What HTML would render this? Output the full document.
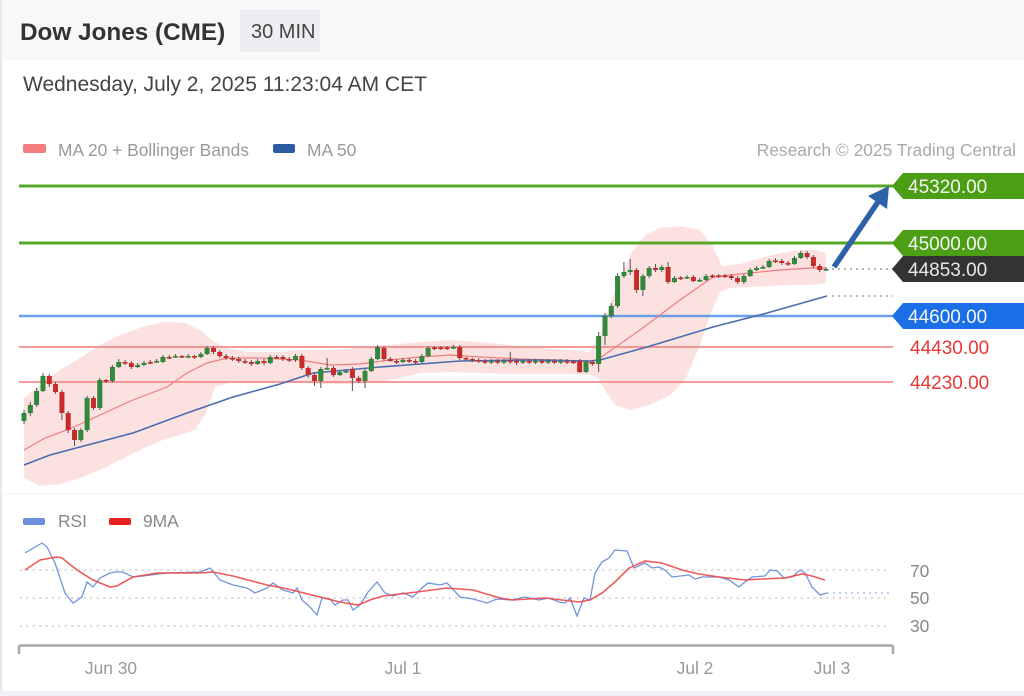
<!DOCTYPE html>
<html><head><meta charset="utf-8"><style>
html,body{margin:0;padding:0;background:#fff;}
body{width:1024px;height:696px;overflow:hidden;}
svg{display:block;font-family:"Liberation Sans",sans-serif;}
</style></head><body>
<svg width="1024" height="696" viewBox="0 0 1024 696" xmlns="http://www.w3.org/2000/svg">
<rect x="0" y="0" width="1024" height="696" fill="#fff"/>
<rect x="0" y="0" width="1024" height="60" fill="#f8f8f8"/>
<rect x="0" y="0" width="2" height="696" fill="#e8e8e8"/>
<rect x="0" y="691" width="1024" height="5" fill="#eef0f3"/>
<line x1="2" y1="494" x2="1024" y2="494" stroke="#f3f3f3" stroke-width="1"/>

<!-- header -->
<text x="20" y="40" font-size="24.3" font-weight="bold" fill="#333">Dow Jones (CME)</text>
<rect x="240" y="10" width="80" height="42" fill="#eceef1"/>
<text x="251" y="38" font-size="20" fill="#444">30 MIN</text>
<text x="23" y="91" font-size="21" fill="#444">Wednesday, July 2, 2025 11:23:04 AM CET</text>

<!-- legend -->
<rect x="23" y="144" width="23" height="9" rx="2" fill="#f47c7c"/>
<text x="58" y="156" font-size="17.4" fill="#999">MA 20 + Bollinger Bands</text>
<rect x="273" y="144" width="22" height="9" rx="2" fill="#2d5ba3"/>
<text x="307" y="156" font-size="17.4" fill="#999">MA 50</text>
<text x="1016" y="156" font-size="17.4" fill="#aaa" text-anchor="end">Research © 2025 Trading Central</text>

<!-- Bollinger band -->
<path fill="#fcdcdc" fill-opacity="0.85" d="M24,398 L40,385 L60,370 L80,358 L100,345 L120,335 L145,326 L165,322 L185,323 L200,330 L212,340 L225,348 L250,352 L280,352 L300,350 L330,350 L360,348 L390,345 L420,342 L450,340 L480,342 L510,345 L540,348 L570,350 L590,352 L600,335 L615,290 L630,255 L645,235 L660,228 L680,226 L700,230 L712,245 L722,266 L740,264 L760,258 L780,253 L800,250 L815,250 L826,253 L826,283 L810,285 L790,285 L770,286 L750,287 L730,288 L720,292 L710,315 L700,345 L685,380 L670,395 L650,405 L630,410 L615,405 L605,390 L598,378 L590,375 L570,374 L540,374 L510,374 L480,373 L450,372 L420,373 L400,378 L380,382 L350,384 L320,384 L290,382 L260,381 L235,381 L215,387 L205,415 L195,430 L180,435 L160,441 L140,450 L120,460 L100,470 L80,478 L60,484 L40,486 L24,478 Z"/>

<!-- level lines -->
<line x1="19" y1="186" x2="893" y2="186" stroke="#57a829" stroke-width="3"/>
<line x1="19" y1="243" x2="893" y2="243" stroke="#57a829" stroke-width="3"/>
<line x1="19" y1="316" x2="893" y2="316" stroke="#6d9ee8" stroke-width="2.5"/>
<line x1="19" y1="347" x2="893" y2="347" stroke="#f28b8b" stroke-width="1.8"/>
<line x1="19" y1="382" x2="893" y2="382" stroke="#f28b8b" stroke-width="1.8"/>
<line x1="832" y1="269" x2="893" y2="269" stroke="#999" stroke-width="1.5" stroke-dasharray="2,4"/>
<line x1="832" y1="296" x2="893" y2="296" stroke="#9aa4c4" stroke-width="1.5" stroke-dasharray="2,4"/>

<!-- MA20 -->
<polyline fill="none" stroke="#f07c7c" stroke-width="1.2" points="24,450 45,438 67,430 85,422 100,415 133,400 167,387 187,373 207,363 227,358 260,358 300,360 330,365 360,364 390,360 420,357 450,355 480,357 520,359 560,360 590,362 600,358 640,330 680,300 713,277 740,274 780,270 810,268 826,268"/>
<!-- MA50 -->
<polyline fill="none" stroke="#4a6cb0" stroke-width="1.6" points="24,465 50,455 80,447 133,433 187,413 233,397 280,384 313,373 380,367 460,361 530,360 590,361 600,360 647,347 713,327 767,313 827,296"/>

<!-- candles in index coords -->
<g transform="translate(24,0) scale(6.315,1)">
<g fill="#555">
<rect x="-0.08" y="410" width="0.16" height="14"/><rect x="0.92" y="402" width="0.16" height="14"/><rect x="1.92" y="388" width="0.16" height="19"/><rect x="2.92" y="373" width="0.16" height="19"/><rect x="3.92" y="374" width="0.16" height="13"/><rect x="4.92" y="382" width="0.16" height="12"/><rect x="5.92" y="390" width="0.16" height="30"/><rect x="6.92" y="411" width="0.16" height="22"/><rect x="7.92" y="428" width="0.16" height="18"/><rect x="8.92" y="428" width="0.16" height="14"/>
<rect x="9.92" y="396" width="0.16" height="36"/><rect x="10.92" y="396" width="0.16" height="14"/><rect x="11.92" y="378" width="0.16" height="32"/><rect x="12.92" y="379" width="0.16" height="4"/><rect x="13.92" y="365" width="0.16" height="18"/><rect x="14.92" y="359" width="0.16" height="9"/><rect x="15.92" y="360" width="0.16" height="5"/><rect x="16.92" y="361" width="0.16" height="8"/><rect x="17.92" y="363" width="0.16" height="5"/><rect x="18.92" y="361" width="0.16" height="5"/>
<rect x="19.92" y="360" width="0.16" height="4"/><rect x="20.92" y="359" width="0.16" height="4"/><rect x="21.92" y="355" width="0.16" height="8"/><rect x="22.92" y="355" width="0.16" height="4"/><rect x="23.92" y="354" width="0.16" height="4"/><rect x="24.92" y="355" width="0.16" height="3"/><rect x="25.92" y="354" width="0.16" height="4"/><rect x="26.92" y="355" width="0.16" height="4"/><rect x="27.92" y="352" width="0.16" height="6"/><rect x="28.92" y="346" width="0.16" height="9"/>
<rect x="29.92" y="346" width="0.16" height="8"/><rect x="30.92" y="350" width="0.16" height="8"/><rect x="31.92" y="354" width="0.16" height="6"/><rect x="32.92" y="356" width="0.16" height="5"/><rect x="33.92" y="357" width="0.16" height="6"/><rect x="34.92" y="359" width="0.16" height="5"/><rect x="35.92" y="360" width="0.16" height="6"/><rect x="36.92" y="359" width="0.16" height="6"/><rect x="37.92" y="359" width="0.16" height="6"/><rect x="38.92" y="355" width="0.16" height="9"/>
<rect x="39.92" y="355" width="0.16" height="4"/><rect x="40.92" y="355" width="0.16" height="6"/><rect x="41.92" y="357" width="0.16" height="5"/><rect x="42.92" y="354" width="0.16" height="8"/><rect x="43.92" y="354" width="0.16" height="16"/><rect x="44.92" y="366" width="0.16" height="12"/><rect x="45.92" y="373" width="0.16" height="13"/><rect x="46.92" y="367" width="0.16" height="21"/><rect x="47.92" y="358" width="0.16" height="12"/><rect x="48.92" y="366" width="0.16" height="11"/>
<rect x="49.92" y="370" width="0.16" height="6"/><rect x="50.92" y="369" width="0.16" height="4"/><rect x="51.92" y="367" width="0.16" height="24"/><rect x="52.92" y="376" width="0.16" height="7"/><rect x="53.92" y="369" width="0.16" height="19"/><rect x="54.92" y="357" width="0.16" height="15"/><rect x="55.92" y="345" width="0.16" height="15"/><rect x="56.92" y="346" width="0.16" height="15"/><rect x="57.92" y="357" width="0.16" height="5"/><rect x="58.92" y="359" width="0.16" height="5"/>
<rect x="59.92" y="358" width="0.16" height="5"/><rect x="60.92" y="358" width="0.16" height="5"/><rect x="61.92" y="359" width="0.16" height="5"/><rect x="62.92" y="354" width="0.16" height="9"/><rect x="63.92" y="346" width="0.16" height="11"/><rect x="64.92" y="346" width="0.16" height="4"/><rect x="65.92" y="346" width="0.16" height="4"/><rect x="66.92" y="346" width="0.16" height="4"/><rect x="67.92" y="345" width="0.16" height="4"/><rect x="68.92" y="345" width="0.16" height="15"/>
<rect x="69.92" y="357" width="0.16" height="4"/><rect x="70.92" y="358" width="0.16" height="4"/><rect x="71.92" y="358" width="0.16" height="5"/><rect x="72.92" y="359" width="0.16" height="5"/><rect x="73.92" y="359" width="0.16" height="5"/><rect x="74.92" y="359" width="0.16" height="5"/><rect x="75.92" y="359" width="0.16" height="5"/><rect x="76.92" y="352" width="0.16" height="12"/><rect x="77.92" y="359" width="0.16" height="6"/><rect x="78.92" y="359" width="0.16" height="5"/>
<rect x="79.92" y="359" width="0.16" height="5"/><rect x="80.92" y="359" width="0.16" height="5"/><rect x="81.92" y="359" width="0.16" height="5"/><rect x="82.92" y="359" width="0.16" height="5"/><rect x="83.92" y="359" width="0.16" height="5"/><rect x="84.92" y="359" width="0.16" height="5"/><rect x="85.92" y="359" width="0.16" height="5"/><rect x="86.92" y="360" width="0.16" height="4"/><rect x="87.92" y="359" width="0.16" height="14"/><rect x="88.92" y="360" width="0.16" height="13"/>
<rect x="89.92" y="360" width="0.16" height="6"/><rect x="90.92" y="332" width="0.16" height="40"/><rect x="91.92" y="313" width="0.16" height="32"/><rect x="92.92" y="303" width="0.16" height="15"/><rect x="93.92" y="273" width="0.16" height="35"/><rect x="94.92" y="262" width="0.16" height="16"/><rect x="95.92" y="259" width="0.16" height="16"/><rect x="96.92" y="268" width="0.16" height="25"/><rect x="97.92" y="274" width="0.16" height="22"/><rect x="98.92" y="266" width="0.16" height="12"/>
<rect x="99.92" y="264" width="0.16" height="8"/><rect x="100.92" y="265" width="0.16" height="7"/><rect x="101.92" y="262" width="0.16" height="22"/><rect x="102.92" y="276" width="0.16" height="7"/><rect x="103.92" y="276" width="0.16" height="4"/><rect x="104.92" y="275" width="0.16" height="4"/><rect x="105.92" y="275" width="0.16" height="7"/><rect x="106.92" y="278" width="0.16" height="4"/><rect x="107.92" y="274" width="0.16" height="7"/><rect x="108.92" y="274" width="0.16" height="4"/>
<rect x="109.92" y="274" width="0.16" height="4"/><rect x="110.92" y="274" width="0.16" height="4"/><rect x="111.92" y="274" width="0.16" height="6"/><rect x="112.92" y="276" width="0.16" height="8"/><rect x="113.92" y="274" width="0.16" height="10"/><rect x="114.92" y="268" width="0.16" height="9"/><rect x="115.92" y="266" width="0.16" height="5"/><rect x="116.92" y="265" width="0.16" height="4"/><rect x="117.92" y="259" width="0.16" height="9"/><rect x="118.92" y="258" width="0.16" height="5"/>
<rect x="119.92" y="259" width="0.16" height="6"/><rect x="120.92" y="261" width="0.16" height="5"/><rect x="121.92" y="256" width="0.16" height="9"/><rect x="122.92" y="251" width="0.16" height="8"/><rect x="123.92" y="251" width="0.16" height="8"/><rect x="124.92" y="255" width="0.16" height="13"/><rect x="125.92" y="264" width="0.16" height="8"/><rect x="126.92" y="267" width="0.16" height="4"/>
</g>
<!-- green bodies -->
<g fill="#2f8a3b" stroke="#1f5f28" stroke-width="0.05">
<rect x="-0.36" y="413" width="0.72" height="8"/><rect x="0.64" y="405" width="0.72" height="8"/><rect x="1.64" y="391" width="0.72" height="14"/><rect x="2.64" y="376" width="0.72" height="15"/><rect x="8.64" y="430" width="0.72" height="10"/><rect x="9.64" y="398" width="0.72" height="32"/><rect x="11.64" y="380" width="0.72" height="28"/><rect x="13.64" y="367" width="0.72" height="14"/><rect x="14.64" y="362" width="0.72" height="5"/><rect x="17.64" y="365" width="0.72" height="2"/>
<rect x="18.64" y="363" width="0.72" height="2"/><rect x="20.64" y="361" width="0.72" height="1.6"/><rect x="21.64" y="357" width="0.72" height="5"/><rect x="23.64" y="356" width="0.72" height="1.6"/><rect x="25.64" y="356" width="0.72" height="1.6"/><rect x="27.64" y="354" width="0.72" height="3"/><rect x="28.64" y="348" width="0.72" height="6"/><rect x="36.64" y="361" width="0.72" height="3"/><rect x="38.64" y="357" width="0.72" height="6"/><rect x="42.64" y="356" width="0.72" height="4"/>
<rect x="46.64" y="369" width="0.72" height="12"/><rect x="47.64" y="368" width="0.72" height="1.6"/><rect x="49.64" y="372" width="0.72" height="3"/><rect x="50.64" y="371" width="0.72" height="1.6"/><rect x="53.64" y="371" width="0.72" height="10"/><rect x="54.64" y="359" width="0.72" height="12"/><rect x="55.64" y="347" width="0.72" height="12"/><rect x="59.64" y="360" width="0.72" height="2"/><rect x="62.64" y="356" width="0.72" height="6"/><rect x="63.64" y="348" width="0.72" height="8"/>
<rect x="67.64" y="347" width="0.72" height="1.6"/><rect x="73.64" y="361" width="0.72" height="1.6"/><rect x="75.64" y="361" width="0.72" height="1.6"/><rect x="78.64" y="361" width="0.72" height="1.6"/><rect x="80.64" y="361" width="0.72" height="1.6"/><rect x="82.64" y="361" width="0.72" height="1.6"/><rect x="84.64" y="361" width="0.72" height="1.6"/><rect x="88.64" y="362" width="0.72" height="10"/><rect x="90.64" y="336" width="0.72" height="28"/><rect x="91.64" y="316" width="0.72" height="20"/>
<rect x="92.64" y="306" width="0.72" height="10"/><rect x="93.64" y="276" width="0.72" height="30"/><rect x="94.64" y="272" width="0.72" height="4"/><rect x="95.64" y="270" width="0.72" height="2"/><rect x="97.64" y="276" width="0.72" height="14"/><rect x="98.64" y="268" width="0.72" height="8"/><rect x="100.64" y="267" width="0.72" height="3"/><rect x="102.64" y="278" width="0.72" height="4"/><rect x="104.64" y="277" width="0.72" height="1.6"/><rect x="106.64" y="280" width="0.72" height="1.6"/>
<rect x="107.64" y="276" width="0.72" height="4"/><rect x="113.64" y="276" width="0.72" height="6"/><rect x="114.64" y="270" width="0.72" height="6"/><rect x="115.64" y="268" width="0.72" height="2"/><rect x="116.64" y="267" width="0.72" height="1.6"/><rect x="117.64" y="261" width="0.72" height="6"/><rect x="121.64" y="258" width="0.72" height="6"/><rect x="122.64" y="253" width="0.72" height="5"/><rect x="126.64" y="269" width="0.72" height="1.6"/>
</g>
<!-- red bodies -->
<g fill="#cc2a2a" stroke="#8e1c1c" stroke-width="0.05">
<rect x="3.64" y="376" width="0.72" height="8"/><rect x="4.64" y="384" width="0.72" height="8"/><rect x="5.64" y="392" width="0.72" height="21"/><rect x="6.64" y="413" width="0.72" height="17"/><rect x="7.64" y="430" width="0.72" height="10"/><rect x="10.64" y="398" width="0.72" height="10"/><rect x="12.64" y="380" width="0.72" height="1.6"/><rect x="15.64" y="362" width="0.72" height="1.6"/><rect x="16.64" y="363" width="0.72" height="4"/><rect x="19.64" y="362" width="0.72" height="1.6"/>
<rect x="22.64" y="357" width="0.72" height="1.6"/><rect x="24.64" y="356" width="0.72" height="1.6"/><rect x="26.64" y="356" width="0.72" height="1.6"/><rect x="29.64" y="348" width="0.72" height="4"/><rect x="30.64" y="352" width="0.72" height="4"/><rect x="31.64" y="356" width="0.72" height="2"/><rect x="32.64" y="358" width="0.72" height="1.6"/><rect x="33.64" y="359" width="0.72" height="2"/><rect x="34.64" y="361" width="0.72" height="1.6"/><rect x="35.64" y="362" width="0.72" height="2"/>
<rect x="37.64" y="361" width="0.72" height="2"/><rect x="39.64" y="357" width="0.72" height="1.6"/><rect x="40.64" y="357" width="0.72" height="2"/><rect x="41.64" y="359" width="0.72" height="1.6"/><rect x="43.64" y="356" width="0.72" height="12"/><rect x="44.64" y="368" width="0.72" height="7"/><rect x="45.64" y="375" width="0.72" height="6"/><rect x="48.64" y="368" width="0.72" height="7"/><rect x="51.64" y="369" width="0.72" height="9"/><rect x="52.64" y="378" width="0.72" height="3"/>
<rect x="56.64" y="348" width="0.72" height="11"/><rect x="57.64" y="359" width="0.72" height="2"/><rect x="58.64" y="361" width="0.72" height="1.6"/><rect x="60.64" y="360" width="0.72" height="1.6"/><rect x="61.64" y="361" width="0.72" height="1.6"/><rect x="64.64" y="347.5" width="0.72" height="1.6"/><rect x="65.64" y="347.5" width="0.72" height="1.6"/><rect x="66.64" y="347.5" width="0.72" height="1.6"/><rect x="68.64" y="347" width="0.72" height="11"/><rect x="69.64" y="358" width="0.72" height="1.6"/>
<rect x="70.64" y="359" width="0.72" height="1.6"/><rect x="71.64" y="360" width="0.72" height="1.6"/><rect x="72.64" y="361" width="0.72" height="1.6"/><rect x="74.64" y="361" width="0.72" height="1.6"/><rect x="76.64" y="360.5" width="0.72" height="1.6"/><rect x="77.64" y="361" width="0.72" height="1.6"/><rect x="79.64" y="361" width="0.72" height="1.6"/><rect x="81.64" y="361" width="0.72" height="1.6"/><rect x="83.64" y="361" width="0.72" height="1.6"/><rect x="85.64" y="361" width="0.72" height="1.6"/>
<rect x="86.64" y="361.5" width="0.72" height="1.6"/><rect x="87.64" y="361" width="0.72" height="11"/><rect x="89.64" y="362" width="0.72" height="2"/><rect x="96.64" y="270" width="0.72" height="20"/><rect x="99.64" y="268" width="0.72" height="2"/><rect x="101.64" y="267" width="0.72" height="15"/><rect x="103.64" y="277.5" width="0.72" height="1.6"/><rect x="105.64" y="277" width="0.72" height="4"/><rect x="108.64" y="275.5" width="0.72" height="1.6"/><rect x="109.64" y="275.5" width="0.72" height="1.6"/>
<rect x="110.64" y="275.5" width="0.72" height="1.6"/><rect x="111.64" y="276" width="0.72" height="2"/><rect x="112.64" y="278" width="0.72" height="4"/><rect x="118.64" y="260.5" width="0.72" height="1.6"/><rect x="119.64" y="261" width="0.72" height="2"/><rect x="120.64" y="263" width="0.72" height="1.6"/><rect x="123.64" y="253" width="0.72" height="4"/><rect x="124.64" y="257" width="0.72" height="9"/><rect x="125.64" y="266" width="0.72" height="4"/>
</g>
</g>

<!-- arrow -->
<line x1="834" y1="267" x2="880" y2="199" stroke="#2e62a6" stroke-width="5.5" stroke-linecap="butt"/>
<polygon points="889,186 868,196 887,209" fill="#2e62a6"/>

<!-- price labels -->
<polygon points="892,186 903,173 1024,173 1024,199 903,199" fill="#4c9f15"/>
<text x="908" y="193" font-size="19" fill="#f4f4f4">45320.00</text>
<polygon points="892,243 903,230 1024,230 1024,256 903,256" fill="#4c9f15"/>
<text x="908" y="250" font-size="19" fill="#f4f4f4">45000.00</text>
<polygon points="892,269 903,256 1024,256 1024,282 903,282" fill="#333333"/>
<text x="908" y="276" font-size="19" fill="#e8e8e8">44853.00</text>
<polygon points="892,316 903,303 1024,303 1024,329 903,329" fill="#1a6fe6"/>
<text x="908" y="323" font-size="19" fill="#f4f4f4">44600.00</text>
<text x="910" y="354" font-size="19" fill="#e53935">44430.00</text>
<text x="910" y="389" font-size="19" fill="#e53935">44230.00</text>

<!-- RSI panel -->
<rect x="23" y="518" width="22" height="7" rx="2" fill="#6b8fdc"/>
<text x="58" y="527" font-size="17.4" fill="#888">RSI</text>
<rect x="109" y="518" width="22" height="7" rx="2" fill="#e82020"/>
<text x="143" y="527" font-size="17.4" fill="#888">9MA</text>

<g stroke="#c4c4c4" stroke-width="1.5" stroke-dasharray="1.8,4.6">
<line x1="20" y1="570" x2="890" y2="570"/>
<line x1="20" y1="598" x2="890" y2="598"/>
<line x1="20" y1="626" x2="890" y2="626"/>
</g>
<line x1="827" y1="593" x2="893" y2="593" stroke="#a8bde8" stroke-width="1.5" stroke-dasharray="2,4"/>
<text x="910" y="577" font-size="17.4" fill="#888">70</text>
<text x="910" y="604" font-size="17.4" fill="#888">50</text>
<text x="910" y="632" font-size="17.4" fill="#888">30</text>

<polyline fill="none" stroke="#7094dc" stroke-width="1.3" points="25,553 42,543 47,547 55,563 65,593 73,603 82,597 87,582 93,587 100,578 110,573 115,572 123,572 133,577 143,576 167,573 200,572 210,568 220,580 233,585 247,588 255,593 267,588 273,583 283,590 293,593 297,588 302,600 310,607 317,615 322,598 330,599 335,605 343,600 348,600 353,610 360,605 368,592 377,582 385,593 393,596 403,593 413,597 423,587 428,583 440,585 447,583 460,597 473,599 487,603 497,599 512,600 525,597 539,600 549,598 559,602 565,603 570,598 577,616 584,598 590,600 595,573 602,562 609,558 615,550 627,551 634,568 645,563 652,568 659,567 665,570 672,577 689,575 695,579 702,577 719,577 729,580 739,587 745,582 752,577 765,576 770,570 777,571 784,578 792,577 800,570 805,573 812,587 820,595 827,593"/>
<polyline fill="none" stroke="#ee4848" stroke-width="1.6" stroke-opacity="0.9" points="25,570 40,560 57,557 62,558 77,570 93,580 110,587 117,586 133,577 157,573 200,573 213,572 233,576 267,585 283,588 300,592 320,597 340,602 358,605 370,600 383,596 417,592 447,588 473,590 500,598 512,600 545,598 579,602 590,600 602,593 615,582 629,568 645,561 662,563 682,570 699,574 719,577 745,580 762,579 785,578 802,574 812,576 825,580"/>

<!-- x axis -->
<path d="M19,654 L19,647.5 Q19,645.5 21,645.5 L891,645.5 Q893,645.5 893,647.5 L893,654" fill="none" stroke="#a8a8a8" stroke-width="2.5"/>
<text x="111" y="674" font-size="17.4" fill="#999" text-anchor="middle">Jun 30</text>
<text x="403" y="674" font-size="17.4" fill="#999" text-anchor="middle">Jul 1</text>
<text x="695" y="674" font-size="17.4" fill="#999" text-anchor="middle">Jul 2</text>
<text x="832" y="674" font-size="17.4" fill="#999" text-anchor="middle">Jul 3</text>
</svg>
</body></html>
